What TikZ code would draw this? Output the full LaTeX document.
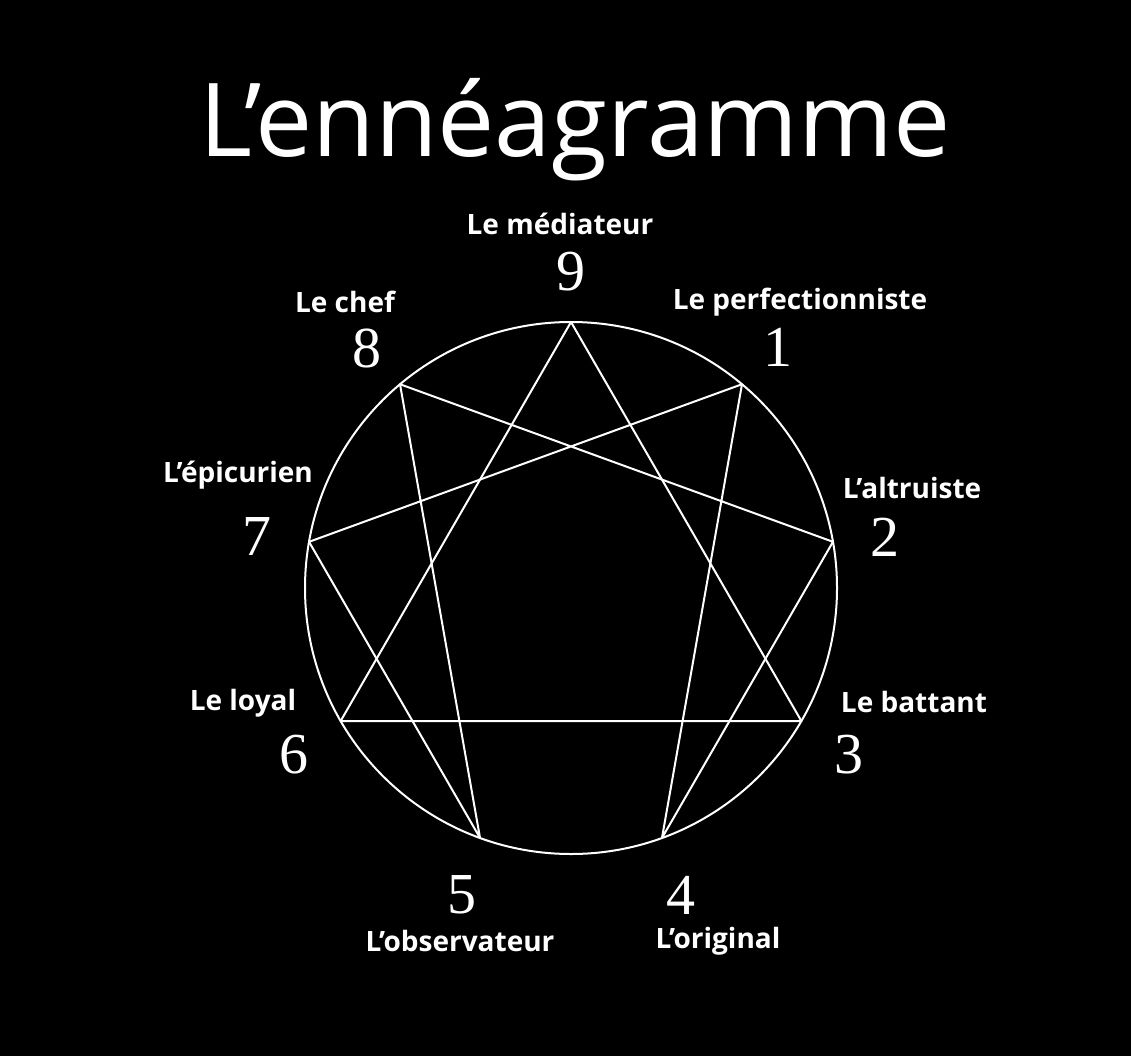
\documentclass[tikz,border=0pt]{standalone}
\usepackage{fontspec}
\usetikzlibrary{calc}
\setmainfont{Open Sans}
\newfontfamily\numfont{Liberation Serif}
\begin{document}
\begin{tikzpicture}[x=1pt,y=-1pt,
  lbl/.style={text=white,font=\bfseries\fontsize{28}{30}\selectfont,inner sep=0pt},
  num/.style={text=white,font=\numfont\fontsize{58}{60}\selectfont,inner sep=0pt},
  ln/.style={draw=white,line width=2pt}]
\fill[black] (0,0) rectangle (1131,1056);
\useasboundingbox (0,0) rectangle (1131,1056);
\node[text=white,font=\fontsize{102}{110}\selectfont,inner sep=0pt] (title) at (575,130) {L’ennéagramme};
\coordinate (c) at (571,588);
\draw[ln] (c) circle (266);
\foreach \k in {0,...,8} {
  \coordinate (p\k) at ($(c)+({266*sin(40*\k)},{-266*cos(40*\k)})$);
}
\draw[ln,line join=round] (p0) -- (p3) -- (p6) -- cycle;
\draw[ln,line join=round] (p1) -- (p4) -- (p2) -- (p8) -- (p5) -- (p7) -- cycle;
\node[num] (n9) at (571,272) {9};
\node[lbl] (l9) at (560,224) {Le médiateur};
\node[num] (n1) at (778,347) {1};
\node[lbl] (l1) at (800,302) {Le perfectionniste};
\node[num] (n2) at (885,537) {2};
\node[lbl] (l2) at (912,488) {L'altruiste};
\node[num] (n3) at (849,755) {3};
\node[lbl] (l3) at (914,702) {Le battant};
\node[num] (n4) at (681,895) {4};
\node[lbl] (l4) at (718,941) {L'original};
\node[num] (n5) at (462,895) {5};
\node[lbl] (l5) at (460,941) {L'observateur};
\node[num] (n6) at (294,755) {6};
\node[lbl] (l6) at (243,703) {Le loyal};
\node[num] (n7) at (257,537) {7};
\node[lbl] (l7) at (238,475) {L’épicurien};
\node[num] (n8) at (367,348) {8};
\node[lbl] (l8) at (345,302) {Le chef};
\end{tikzpicture}
\end{document}
